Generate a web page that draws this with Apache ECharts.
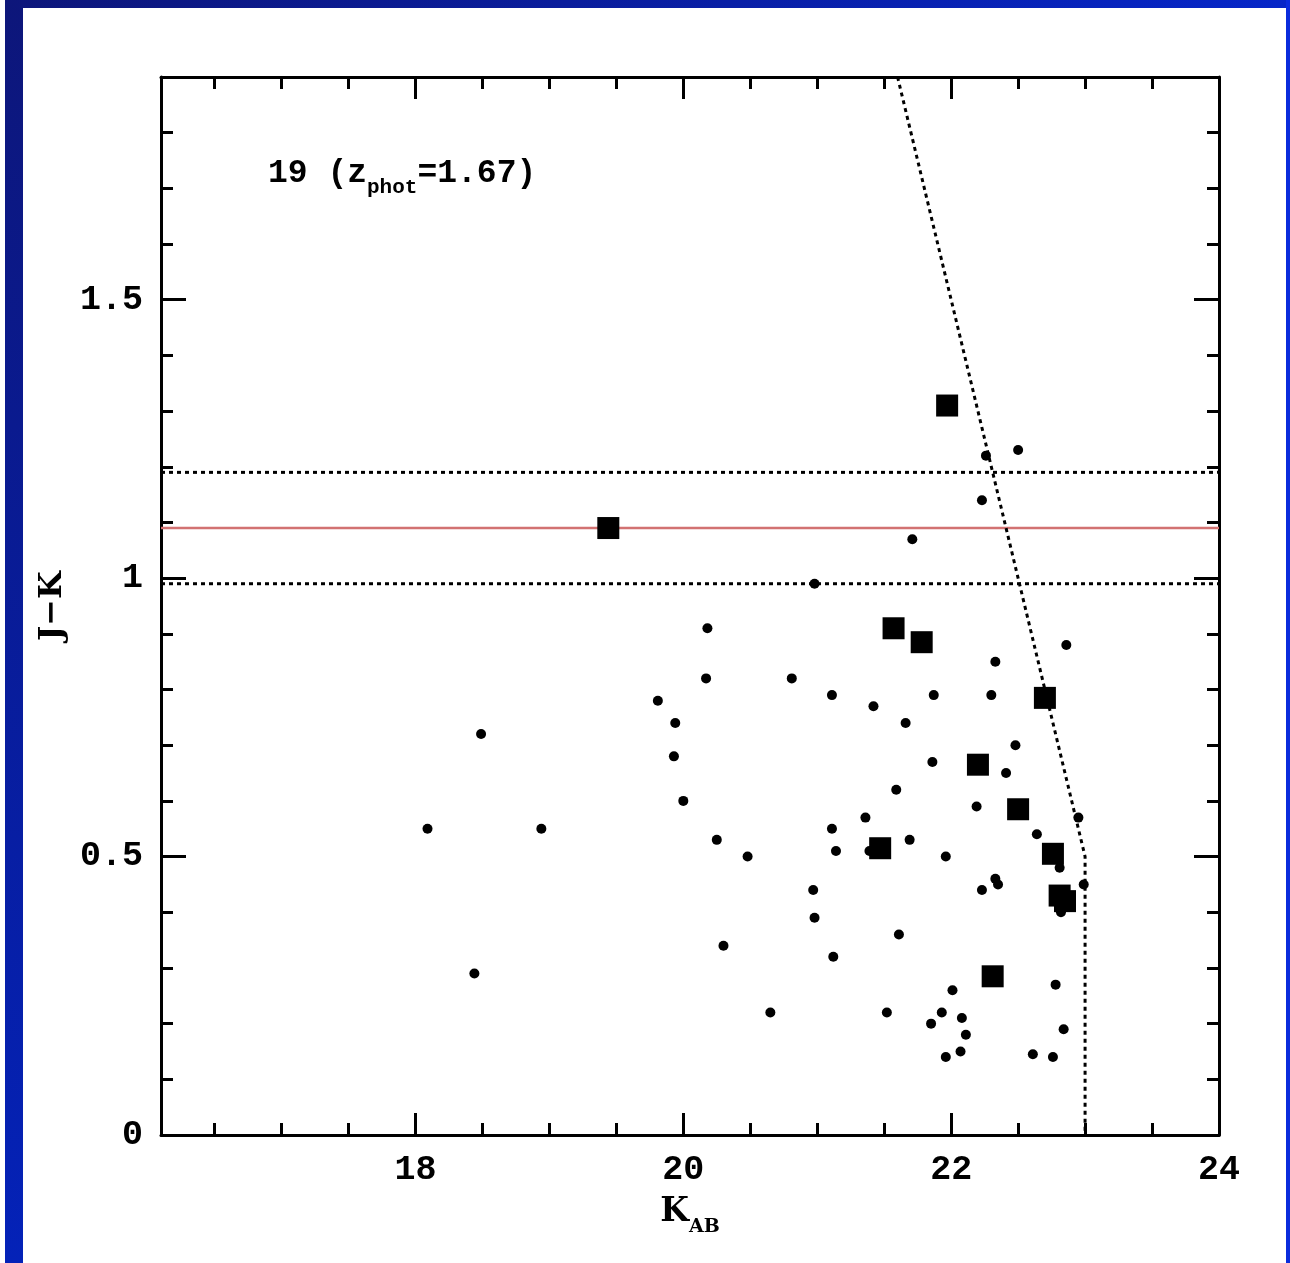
<!DOCTYPE html>
<html>
<head>
<meta charset="utf-8">
<script src="https://cdn.jsdelivr.net/npm/echarts@6/dist/echarts.min.js"></script>
<style>
  html, body { margin: 0; padding: 0; background: #ffffff; }
  #chart { width: 1290px; height: 1263px; }
</style>
</head>
<body>
<div id="chart"></div>
<script>
// Axis ranges and tick positions
const X_MIN = 16.1, X_MAX = 24;
const Y_MIN = 0, Y_MAX = 1.9;
const X_MAJOR = [18, 20, 22, 24];
const X_MINOR = [16.5, 17, 17.5, 18.5, 19, 19.5, 20.5, 21, 21.5, 22.5, 23, 23.5];
const Y_MAJOR = [0.5, 1, 1.5];
const Y_MINOR = [0.1, 0.2, 0.3, 0.4, 0.6, 0.7, 0.8, 0.9, 1.1, 1.2, 1.3, 1.4, 1.6, 1.7, 1.8];
const X_LABELS = [18, 20, 22, 24];
const Y_LABELS = [0, 0.5, 1, 1.5];

// Field galaxies (small dots): K_AB and J-K
const FIELD_K = [
  18.49, 18.09, 18.94, 18.44, 19.81, 19.94, 19.93, 20.00, 20.18, 20.17,
  20.25, 20.48, 20.30, 20.65, 20.81, 20.98, 20.97, 20.98, 21.11, 21.11,
  21.14, 21.12, 21.36, 21.42, 21.39, 21.52, 21.59, 21.61, 21.66, 21.69,
  21.71, 21.85, 21.86, 21.87, 21.93, 21.96, 21.96, 22.01, 22.07, 22.08,
  22.11, 22.19, 22.23, 22.23, 22.26, 22.30, 22.33, 22.33, 22.35, 22.41,
  22.48, 22.50, 22.61, 22.64, 22.76, 22.78, 22.81, 22.82, 22.84, 22.86,
  22.95, 22.99
];
const FIELD_JK = [
  0.72, 0.55, 0.55, 0.29, 0.78, 0.74, 0.68, 0.60, 0.91, 0.82,
  0.53, 0.50, 0.34, 0.22, 0.82, 0.99, 0.44, 0.39, 0.79, 0.55,
  0.51, 0.32, 0.57, 0.77, 0.51, 0.22, 0.62, 0.36, 0.74, 0.53,
  1.07, 0.20, 0.67, 0.79, 0.22, 0.50, 0.14, 0.26, 0.15, 0.21,
  0.18, 0.59, 1.14, 0.44, 1.22, 0.79, 0.85, 0.46, 0.45, 0.65,
  0.70, 1.23, 0.145, 0.54, 0.14, 0.27, 0.48, 0.40, 0.19, 0.88,
  0.57, 0.45
];

// Candidate members (large squares)
const MEMBER_K  = [19.44, 21.97, 21.57, 21.78, 22.70, 22.20, 22.50, 21.47, 22.76, 22.81, 22.85, 22.31];
const MEMBER_JK = [1.09, 1.31, 0.91, 0.885, 0.785, 0.665, 0.585, 0.515, 0.505, 0.43, 0.42, 0.285];

// Red-sequence colour and its band
const RED_SEQ_JK = 1.09;
const BAND_LOWER_JK = 0.99;
const BAND_UPPER_JK = 1.19;

// Completeness limit (J limit diagonal, then K limit)
const LIMIT_K  = [21.6, 23.0, 23.0];
const LIMIT_JK = [1.9, 0.5, 0.0];

const SERIF = 'DejaVu Serif';
const MONO = 'Liberation Mono';
const INK = '#000000';

function pairs(xs, ys) { return xs.map((x, i) => [x, ys[i]]); }

function tickLabelStyle(labels) {
  return labels ? {
    show: true, customValues: labels, margin: 18, color: INK,
    fontFamily: MONO, fontWeight: 'bold', fontSize: 35
  } : { show: false };
}

function xAxisDef(position, ticks, len, withLine, labels, extra) {
  return Object.assign({
    type: 'value', gridIndex: 0, position: position, min: X_MIN, max: X_MAX,
    axisLine: { show: withLine, onZero: false, lineStyle: { color: INK, width: 3 } },
    axisTick: { show: true, inside: true, length: len, customValues: ticks, lineStyle: { color: INK, width: 3 } },
    axisLabel: tickLabelStyle(labels),
    splitLine: { show: false }
  }, extra || {});
}

function yAxisDef(position, ticks, len, withLine, labels, extra) {
  return Object.assign({
    type: 'value', gridIndex: 0, position: position, min: Y_MIN, max: Y_MAX,
    axisLine: { show: withLine, onZero: false, lineStyle: { color: INK, width: 3 } },
    axisTick: { show: true, inside: true, length: len, customValues: ticks, lineStyle: { color: INK, width: 3 } },
    axisLabel: tickLabelStyle(labels),
    splitLine: { show: false }
  }, extra || {});
}

const dotted = { color: INK, width: 3, type: [4, 4] };

const chart = echarts.init(document.getElementById('chart'), null, { renderer: 'canvas' });

chart.setOption({
  animation: false,
  backgroundColor: '#ffffff',
  grid: { left: 161, top: 77, width: 1058, height: 1058 },
  xAxis: [
    xAxisDef('bottom', X_MAJOR, 22, true, X_LABELS, {
      name: '{m|K}{s|AB}', nameLocation: 'middle', nameGap: 52,
      nameTextStyle: {
        rich: {
          m: { fontFamily: SERIF, fontWeight: 'bold', fontSize: 33, lineHeight: 50, color: INK },
          s: { fontFamily: SERIF, fontWeight: 'bold', fontSize: 19, lineHeight: 20, verticalAlign: 'bottom', color: INK }
        }
      }
    }),
    xAxisDef('bottom', X_MINOR, 12, false, null),
    xAxisDef('top', X_MAJOR, 22, true, null),
    xAxisDef('top', X_MINOR, 12, false, null)
  ],
  yAxis: [
    yAxisDef('left', Y_MAJOR, 25, true, Y_LABELS, {
      name: 'J\u2212K', nameLocation: 'middle', nameGap: 89, nameRotate: 90,
      nameTextStyle: { fontFamily: SERIF, fontWeight: 'bold', fontSize: 32, lineHeight: 30, color: INK }
    }),
    yAxisDef('left', Y_MINOR, 12, false, null),
    yAxisDef('right', Y_MAJOR, 25, true, null),
    yAxisDef('right', Y_MINOR, 12, false, null)
  ],
  graphic: [
    {
      type: 'rect', silent: true, z: 100,
      shape: { x: 5, y: 0, width: 18, height: 1263 },
      style: { fill: new echarts.graphic.LinearGradient(0, 0, 0, 1, [
        { offset: 0, color: '#0d167a' }, { offset: 1, color: '#0422b8' }
      ]) }
    },
    {
      type: 'rect', silent: true, z: 100,
      shape: { x: 5, y: 0, width: 1285, height: 8 },
      style: { fill: new echarts.graphic.LinearGradient(0, 0, 1, 0, [
        { offset: 0, color: '#0d167a' }, { offset: 1, color: '#0626c8' }
      ]) }
    },
    {
      type: 'rect', silent: true, z: 100,
      shape: { x: 1286, y: 0, width: 4, height: 1263 },
      style: { fill: '#0a2cdc' }
    },
    {
      type: 'text', silent: true, z: 100, left: 268, top: 157,
      style: {
        text: '{m|19 (z}{s|phot}{m|=1.67)}',
        rich: {
          m: { fontFamily: MONO, fontWeight: 'bold', fontSize: 33, lineHeight: 50, fill: INK },
          s: { fontFamily: MONO, fontWeight: 'bold', fontSize: 21, lineHeight: 20, verticalAlign: 'bottom', fill: INK }
        }
      }
    }
  ],
  series: [
    {
      type: 'line', xAxisIndex: 0, yAxisIndex: 0, symbol: 'none', z: 2,
      data: [[X_MIN, BAND_UPPER_JK], [X_MAX, BAND_UPPER_JK]], lineStyle: dotted
    },
    {
      type: 'line', xAxisIndex: 0, yAxisIndex: 0, symbol: 'none', z: 2,
      data: [[X_MIN, BAND_LOWER_JK], [X_MAX, BAND_LOWER_JK]], lineStyle: dotted
    },
    {
      type: 'line', xAxisIndex: 0, yAxisIndex: 0, symbol: 'none', z: 2,
      data: [[X_MIN, RED_SEQ_JK], [X_MAX, RED_SEQ_JK]],
      lineStyle: { color: '#d27272', width: 2.5 }
    },
    {
      type: 'line', xAxisIndex: 0, yAxisIndex: 0, symbol: 'none', z: 2,
      data: pairs(LIMIT_K, LIMIT_JK), lineStyle: dotted
    },
    {
      type: 'scatter', xAxisIndex: 0, yAxisIndex: 0, z: 3,
      symbol: 'circle', symbolSize: 10,
      itemStyle: { color: INK, opacity: 1 },
      data: pairs(FIELD_K, FIELD_JK)
    },
    {
      type: 'scatter', xAxisIndex: 0, yAxisIndex: 0, z: 4,
      symbol: 'rect', symbolSize: 22,
      itemStyle: { color: INK, opacity: 1 },
      data: pairs(MEMBER_K, MEMBER_JK)
    }
  ]
});
</script>
</body>
</html>
